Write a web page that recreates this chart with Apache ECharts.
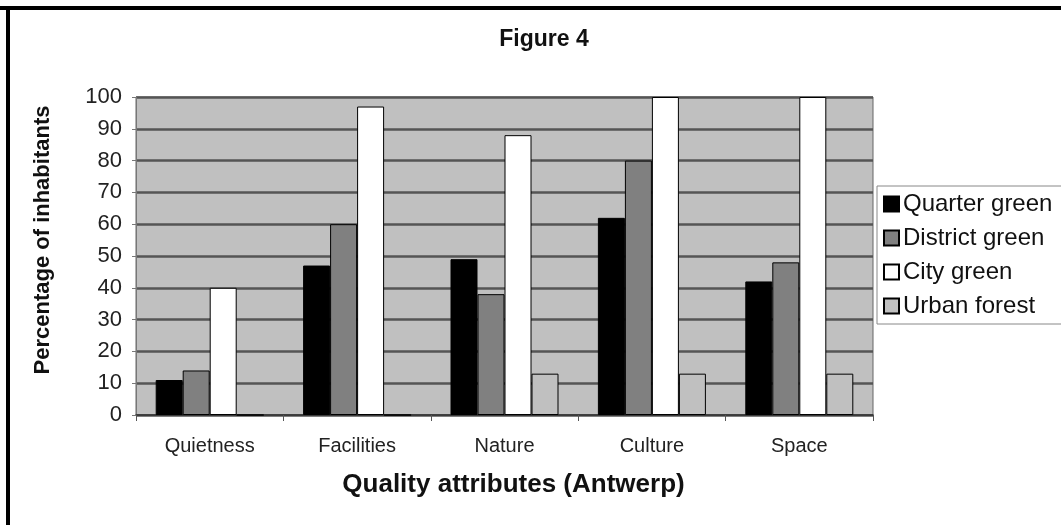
<!DOCTYPE html>
<html>
<head>
<meta charset="utf-8">
<script src="https://cdn.jsdelivr.net/npm/echarts@6/dist/echarts.min.js"></script>
<style>
html,body{margin:0;padding:0;background:#fff;}
#chart{width:1061px;height:525px;}
</style>
</head>
<body>
<div id="chart"></div>
<script>
var categories = ['Quietness', 'Facilities', 'Nature', 'Culture', 'Space'];
var quarterGreen = [11, 47, 49, 62, 42];
var districtGreen = [14, 60, 38, 80, 48];
var cityGreen = [40, 97, 88, 100, 100];
var urbanForest = [0, 0, 13, 13, 13];
var seriesNames = ['Quarter green', 'District green', 'City green', 'Urban forest'];

var FONT = '"Liberation Sans", Arial, sans-serif';
var chart = echarts.init(document.getElementById('chart'), null, {renderer: 'canvas'});

function mk(name, data, color) {
  return {
    name: name,
    type: 'bar',
    data: data,
    barWidth: 27,
    barGap: '0%',
    itemStyle: {color: color, borderColor: '#000', borderWidth: 1},
    emphasis: {disabled: true},
    animation: false
  };
}

chart.setOption({
  animation: false,
  backgroundColor: '#ffffff',
  title: {
    text: 'Figure 4',
    left: 539,
    top: 23,
    textAlign: 'center',
    textStyle: {fontFamily: FONT, fontWeight: 'bold', fontSize: 23, color: '#111'}
  },
  legend: {
    orient: 'vertical',
    left: 877,
    top: 186,
    padding: [6, 10, 6, 6],
    itemWidth: 15,
    itemHeight: 15,
    itemGap: 10,
    backgroundColor: '#fff',
    borderColor: '#888',
    borderWidth: 1,
    textStyle: {fontFamily: FONT, fontSize: 24, color: '#111', padding: [0, 0, 0, -1]},
    data: seriesNames.map(function (n) { return {name: n, icon: 'rect'}; })
  },
  grid: {
    left: 136,
    right: 188,
    top: 97,
    bottom: 110,
    show: true,
    backgroundColor: '#c0c0c0',
    borderColor: '#666',
    borderWidth: 1,
    containLabel: false
  },
  xAxis: {
    type: 'category',
    data: categories,
    name: 'Quality attributes (Antwerp)',
    nameLocation: 'middle',
    nameGap: 57,
    nameTextStyle: {fontFamily: FONT, fontWeight: 'bold', fontSize: 26, color: '#111', padding: [0, 0, 0, 18]},
    axisLine: {lineStyle: {color: '#333', width: 1.5}},
    axisTick: {show: true, alignWithLabel: false, length: 6, lineStyle: {color: '#555'}},
    axisLabel: {fontFamily: FONT, fontSize: 20, color: '#222', margin: 21}
  },
  yAxis: {
    type: 'value',
    min: 0,
    max: 100,
    interval: 10,
    name: 'Percentage of inhabitants',
    nameLocation: 'middle',
    nameGap: 82,
    nameRotate: 90,
    nameTextStyle: {fontFamily: FONT, fontWeight: 'bold', fontSize: 22, color: '#111', padding: [0, 0, 0, 32]},
    axisLine: {show: true, lineStyle: {color: '#777', width: 1}},
    axisTick: {show: true, length: 4, lineStyle: {color: '#777'}},
    axisLabel: {fontFamily: FONT, fontSize: 22, color: '#222', margin: 14},
    splitLine: {show: true, lineStyle: {color: '#555', width: 2.5}}
  },
  graphic: [
    {type: 'rect', left: 0, top: 6, shape: {width: 1061, height: 4}, style: {fill: '#000'}, silent: true},
    {type: 'rect', left: 6, top: 6, shape: {width: 4, height: 519}, style: {fill: '#000'}, silent: true}
  ],
  series: [
    mk(seriesNames[0], quarterGreen, '#000000'),
    mk(seriesNames[1], districtGreen, '#808080'),
    mk(seriesNames[2], cityGreen, '#ffffff'),
    mk(seriesNames[3], urbanForest, '#c0c0c0')
  ]
});
</script>
</body>
</html>
